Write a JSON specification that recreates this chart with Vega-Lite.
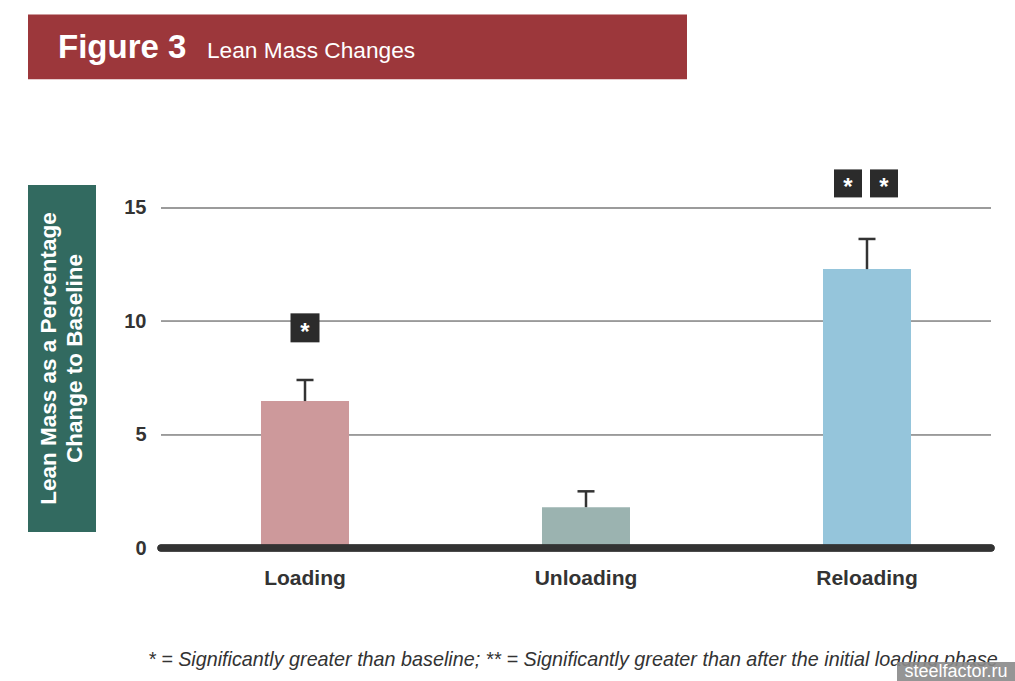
{
  "$schema": "https://vega.github.io/schema/vega-lite/v6.json",
  "padding": {"left": 28, "top": 14, "right": 0, "bottom": 0},
  "background": "white",
  "config": {"view": {"stroke": null}, "font": "Liberation Sans"},
  "width": 830,
  "height": 363,
  "resolve": {"scale": {"x": "independent", "y": "independent"}},
  "layer": [
    {
      "data": {"values": [
        {"phase": "Loading", "value": 6.48, "upper": 7.41},
        {"phase": "Unloading", "value": 1.8, "upper": 2.5},
        {"phase": "Reloading", "value": 12.3, "upper": 13.63}
      ]},
      "layer": [
        {
          "mark": {"type": "rule", "color": "#9a9a9a", "strokeWidth": 1.5},
          "encoding": {"y": {"datum": 5, "type": "quantitative"}}
        },
        {
          "mark": {"type": "rule", "color": "#9a9a9a", "strokeWidth": 1.5},
          "encoding": {"y": {"datum": 10, "type": "quantitative"}}
        },
        {
          "mark": {"type": "rule", "color": "#9a9a9a", "strokeWidth": 1.5},
          "encoding": {"y": {"datum": 15, "type": "quantitative"}}
        },
        {
          "mark": {"type": "bar"},
          "encoding": {
            "x": {"field": "phase", "type": "nominal", "sort": null,
              "scale": {"domain": ["Loading", "Unloading", "Reloading"], "range": [100, 750], "paddingInner": 0.6868, "paddingOuter": 0},
              "axis": {"title": null, "labelAngle": 0, "domain": false, "ticks": false, "grid": false, "labelFontSize": 21, "labelFontWeight": "bold", "labelColor": "#333333", "labelPadding": 19}},
            "y": {"field": "value", "type": "quantitative",
              "scale": {"domain": [0, 16.01], "nice": false},
              "axis": {"values": [0, 5, 10, 15], "title": null, "domain": false, "ticks": false, "grid": false, "labelFontSize": 20, "labelFontWeight": "bold", "labelColor": "#333333", "labelPadding": 15}},
            "color": {"field": "phase", "type": "nominal",
              "scale": {"domain": ["Loading", "Unloading", "Reloading"], "range": ["#cd999b", "#9bb3b0", "#95c5db"]},
              "legend": null}
          }
        },
        {
          "mark": {"type": "rule", "color": "#333333", "strokeWidth": 2.5},
          "encoding": {
            "x": {"field": "phase", "type": "nominal"},
            "y": {"field": "value", "type": "quantitative"},
            "y2": {"field": "upper"}
          }
        },
        {
          "mark": {"type": "tick", "orient": "horizontal", "size": 17, "thickness": 2.5, "color": "#333333", "opacity": 1},
          "encoding": {
            "x": {"field": "phase", "type": "nominal"},
            "y": {"field": "upper", "type": "quantitative"}
          }
        },
        {
          "mark": {"type": "rule", "color": "#333333", "strokeWidth": 7, "strokeCap": "round"},
          "encoding": {"y": {"datum": 0, "type": "quantitative"}}
        },
        {
          "data": {"values": [
            {"phase": "Loading", "level": 9.71, "sym": "*", "pos": "center"},
            {"phase": "Reloading", "level": 16.08, "sym": "*", "pos": "left"},
            {"phase": "Reloading", "level": 16.08, "sym": "*", "pos": "right"}
          ]},
          "layer": [
            {
              "transform": [{"filter": "datum.pos === 'center'"}],
              "mark": {"type": "point", "shape": "square", "filled": true, "size": 841, "color": "#2b2b2b", "opacity": 1},
              "encoding": {"x": {"field": "phase", "type": "nominal"}, "y": {"field": "level", "type": "quantitative"}}
            },
            {
              "transform": [{"filter": "datum.pos === 'left'"}],
              "mark": {"type": "point", "shape": "square", "filled": true, "size": 784, "color": "#2b2b2b", "opacity": 1},
              "encoding": {"x": {"field": "phase", "type": "nominal"}, "xOffset": {"value": 25}, "y": {"field": "level", "type": "quantitative"}}
            },
            {
              "transform": [{"filter": "datum.pos === 'right'"}],
              "mark": {"type": "point", "shape": "square", "filled": true, "size": 784, "color": "#2b2b2b", "opacity": 1},
              "encoding": {"x": {"field": "phase", "type": "nominal"}, "xOffset": {"value": 61}, "y": {"field": "level", "type": "quantitative"}}
            },
            {
              "transform": [{"filter": "datum.pos === 'center'"}],
              "mark": {"type": "text", "align": "center", "baseline": "middle", "dy": 5, "fontSize": 24, "fontWeight": "bold", "color": "white"},
              "encoding": {"x": {"field": "phase", "type": "nominal"}, "y": {"field": "level", "type": "quantitative"}, "text": {"field": "sym"}}
            },
            {
              "transform": [{"filter": "datum.pos === 'left'"}],
              "mark": {"type": "text", "align": "center", "baseline": "middle", "dy": 5, "dx": -19, "fontSize": 24, "fontWeight": "bold", "color": "white"},
              "encoding": {"x": {"field": "phase", "type": "nominal"}, "y": {"field": "level", "type": "quantitative"}, "text": {"field": "sym"}}
            },
            {
              "transform": [{"filter": "datum.pos === 'right'"}],
              "mark": {"type": "text", "align": "center", "baseline": "middle", "dy": 5, "dx": 17, "fontSize": 24, "fontWeight": "bold", "color": "white"},
              "encoding": {"x": {"field": "phase", "type": "nominal"}, "y": {"field": "level", "type": "quantitative"}, "text": {"field": "sym"}}
            }
          ]
        }
      ]
    },
    {
      "data": {"values": [
        {"part": "title", "label": "Figure 3"},
        {"part": "subtitle", "label": "Lean Mass Changes"},
        {"part": "ylabel", "label": "Lean Mass as a Percentage\nChange to Baseline"},
        {"part": "note", "label": "* = Significantly greater than baseline; ** = Significantly greater than after the initial loading phase"},
        {"part": "watermark", "label": "steelfactor.ru"}
      ]},
      "layer": [
        {
          "transform": [{"filter": "datum.part === 'title'"}],
          "mark": {"type": "rect", "color": "#9c373b"},
          "encoding": {
            "x": {"datum": -0.16024, "type": "quantitative", "scale": {"domain": [0, 1], "nice": false, "zero": false}, "axis": null},
            "x2": {"datum": 0.63373},
            "y": {"datum": 1.47, "type": "quantitative", "scale": {"domain": [0, 1], "nice": false, "zero": false}, "axis": null},
            "y2": {"datum": 1.291}
          }
        },
        {
          "transform": [{"filter": "datum.part === 'title'"}],
          "mark": {"type": "text", "align": "left", "baseline": "alphabetic", "fontSize": 33, "fontWeight": "bold", "color": "white"},
          "encoding": {
            "text": {"field": "label"},
            "x": {"datum": -0.1241, "type": "quantitative"},
            "y": {"datum": 1.35, "type": "quantitative"}
          }
        },
        {
          "transform": [{"filter": "datum.part === 'subtitle'"}],
          "mark": {"type": "text", "align": "left", "baseline": "alphabetic", "fontSize": 22.7, "fontWeight": "normal", "color": "white"},
          "encoding": {
            "text": {"field": "label"},
            "x": {"datum": 0.05542, "type": "quantitative"},
            "y": {"datum": 1.35, "type": "quantitative"}
          }
        },
        {
          "transform": [{"filter": "datum.part === 'ylabel'"}],
          "mark": {"type": "rect", "color": "#326a60"},
          "encoding": {
            "x": {"datum": -0.16024, "type": "quantitative"},
            "x2": {"datum": -0.07831},
            "y": {"datum": 1.0, "type": "quantitative"},
            "y2": {"datum": 0.04408}
          }
        },
        {
          "transform": [{"filter": "datum.part === 'ylabel'"}],
          "mark": {"type": "text", "align": "center", "baseline": "middle", "angle": 270, "fontSize": 22.5, "fontWeight": "bold", "color": "white", "lineBreak": "\n", "lineHeight": 26},
          "encoding": {
            "text": {"field": "label"},
            "x": {"datum": -0.13554, "type": "quantitative"},
            "y": {"datum": 0.52204, "type": "quantitative"}
          }
        },
        {
          "transform": [{"filter": "datum.part === 'note'"}],
          "mark": {"type": "text", "align": "left", "baseline": "alphabetic", "fontSize": 19.75, "fontStyle": "italic", "color": "#333333"},
          "encoding": {
            "text": {"field": "label"},
            "x": {"datum": -0.01566, "type": "quantitative"},
            "y": {"datum": -0.32507, "type": "quantitative"}
          }
        },
        {
          "transform": [{"filter": "datum.part === 'watermark'"}],
          "mark": {"type": "rect", "color": "#8a8a8a", "opacity": 0.9},
          "encoding": {
            "x": {"datum": 0.88675, "type": "quantitative"},
            "x2": {"datum": 1.02892},
            "y": {"datum": -0.31405, "type": "quantitative"},
            "y2": {"datum": -0.36915}
          }
        },
        {
          "transform": [{"filter": "datum.part === 'watermark'"}],
          "mark": {"type": "text", "align": "center", "baseline": "alphabetic", "fontSize": 18, "color": "white"},
          "encoding": {
            "text": {"field": "label"},
            "x": {"datum": 0.95783, "type": "quantitative"},
            "y": {"datum": -0.35537, "type": "quantitative"}
          }
        }
      ]
    }
  ]
}
